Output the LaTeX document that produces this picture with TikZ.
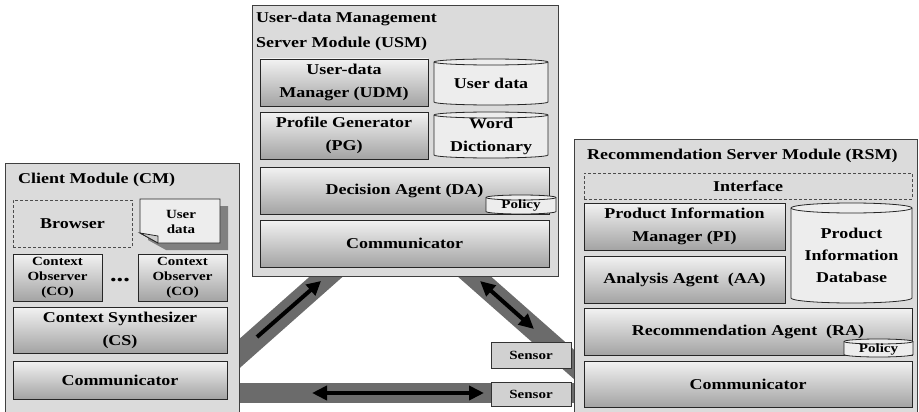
\documentclass[tikz,border=0pt]{standalone}
\usepackage{fontspec}
\setmainfont[FakeStretch=1.2]{Liberation Serif}
\usetikzlibrary{arrows.meta}

\newcommand{\lblbig}{\fontsize{15}{23}\selectfont\bfseries}
\newcommand{\lblsmall}{\fontsize{12.5}{15}\selectfont\bfseries}

% database cylinder: #1 name, #2 x1, #3 y1, #4 x2, #5 y2, #6 rx, #7 ry, #8 font, #9 text
\newcommand{\drawdb}[9]{%
  \path[dbbody] (#2,#3+#7) -- (#2,#5-#7)
     arc[start angle=180, end angle=360, x radius=#6pt, y radius=#7pt]
     -- (#4,#3+#7)
     arc[start angle=0, end angle=180, x radius=#6pt, y radius=#7pt] -- cycle;
  \draw[dbline] (#2,#3+#7) arc[start angle=180, end angle=360, x radius=#6pt, y radius=#7pt];
  \node[align=center, inner sep=0pt, font=#8] (#1) at ({(#2+#4)/2},{(#3+#5)/2+#7/2}) {#9};
}

\begin{document}
\begin{tikzpicture}[x=1pt, y=-1pt,
  module/.style={draw=black!75, fill=black!14, line width=0.8pt, anchor=north west,
                 inner sep=0pt, outer sep=0pt},
  comp/.style={draw=black!85, line width=0.8pt, top color=black!5, bottom color=black!36,
               anchor=north west, inner sep=0pt, outer sep=0pt, align=center, font=\lblbig},
  dashbox/.style={draw=black!70, line width=0.8pt, dash pattern=on 3pt off 2pt, fill=black!14,
                  anchor=north west, inner sep=0pt, outer sep=0pt, align=center, font=\lblbig},
  sensorbox/.style={draw=black!80, line width=0.8pt, fill=black!18, anchor=north west,
                    inner sep=0pt, outer sep=0pt, font=\lblsmall},
  title/.style={anchor=west, inner sep=0pt, align=left, font=\lblbig},
  dbbody/.style={draw=black!85, line width=0.8pt, fill=black!7},
  dbline/.style={draw=black!85, line width=0.8pt},
  band/.style={line width=22pt, draw=black!58},
  flow/.style={line width=4pt, draw=black},
  onehead/.style={flow, -{Triangle[length=14pt,width=14pt]}},
  twohead/.style={flow, {Triangle[length=15pt,width=14pt]}-{Triangle[length=15pt,width=14pt]}},
  font=\lblbig
]
\useasboundingbox (0,0) rectangle (919,412);
\clip (0,0) rectangle (919,412);

% ---------- connection bands between the modules ----------
\coordinate (lb1) at (222,369);
\coordinate (lb2) at (345,260);
\coordinate (rb1) at (459,263);
\coordinate (rb2) at (586,375);
\coordinate (hb1) at (230,393);
\coordinate (hb2) at (585,393);
\draw[band] (lb1) -- (lb2);
\draw[band] (rb1) -- (rb2);
\draw[band, line width=20pt] (hb1) -- (hb2);

% ---------- Client Module ----------
\node[module, minimum width=234pt, minimum height=260pt] (cm) at (5,163) {};
\node[title] (cmt) at (18,180) {Client Module (CM)};
\node[dashbox, minimum width=119pt, minimum height=47pt] (browser) at (13,200) {Browser};
% user data document with folded corner and shadow
\fill[black!50] (148,206) -- (228,206) -- (228,250) -- (166,250) -- (148,240) -- cycle;
\draw[draw=black!85, line width=0.8pt, fill=black!7]
  (140,199) -- (220,199) -- (220,243) -- (158,243) -- (140,233) -- cycle;
\draw[draw=black!85, line width=0.8pt, fill=black!20] (140,233) -- (158,236) -- (158,243) -- cycle;
\node[align=center, inner sep=0pt, font=\lblsmall] (cmdata) at (181,222) {User\\data};
\node[comp, font=\lblsmall, minimum width=89pt, minimum height=47pt] (co1) at (13,254) {Context\\Observer\\(CO)};
\node[comp, font=\lblsmall, minimum width=89pt, minimum height=47pt] (co2) at (138,254) {Context\\Observer\\(CO)};
\node[inner sep=0pt, font=\fontsize{22}{22}\selectfont\bfseries] (dots) at (120,280) {...};
\node[comp, minimum width=214pt, minimum height=46pt] (cs) at (13,307) {Context Synthesizer\\(CS)};
\node[comp, minimum width=214pt, minimum height=38pt] (cmcomm) at (13,361) {Communicator};

% ---------- User-data Management Server Module ----------
\node[module, minimum width=306pt, minimum height=271pt] (usm) at (252,5) {};
\node[title, font=\fontsize{15}{25}\selectfont\bfseries] (usmt) at (256,31.5) {User-data Management\\Server Module (USM)};
\node[comp, minimum width=168pt, minimum height=47pt] (udm) at (260,59) {User-data\\Manager (UDM)};
\drawdb{udata}{434}{59}{548}{105}{57}{3}{\lblbig}{User data}
\node[comp, minimum width=168pt, minimum height=47pt] (pg) at (260,112) {Profile Generator\\(PG)};
\drawdb{wdict}{434}{112}{548}{158}{57}{3}{\lblbig}{Word\\Dictionary}
\node[comp, minimum width=289pt, minimum height=47pt] (da) at (260,167) {Decision Agent (DA)};
\drawdb{dapol}{486}{195}{556}{214}{35}{2.5}{\lblsmall}{Policy}
\node[comp, minimum width=289pt, minimum height=47pt] (usmcomm) at (260,220) {Communicator};

% ---------- Recommendation Server Module ----------
\node[module, minimum width=343pt, minimum height=280pt] (rsm) at (574,139) {};
\node[title] (rsmt) at (587,156) {Recommendation Server Module (RSM)};
\node[dashbox, minimum width=328pt, minimum height=26pt] (iface) at (584,173) {Interface};
\node[comp, minimum width=201pt, minimum height=47pt] (pim) at (584,203) {Product Information\\Manager (PI)};
\node[comp, minimum width=201pt, minimum height=47pt] (aa) at (584,256) {Analysis Agent~ (AA)};
\drawdb{pidb}{791}{203}{912}{303}{60.5}{5}{\fontsize{15}{22}\selectfont\bfseries}{Product\\Information\\Database}
\node[comp, minimum width=328pt, minimum height=47pt] (ra) at (584,308) {Recommendation Agent~ (RA)};
\drawdb{rapol}{844}{339}{913}{357}{34.5}{2.5}{\lblsmall}{Policy}
\node[comp, minimum width=328pt, minimum height=46pt] (rsmcomm) at (584,361) {Communicator};

% ---------- sensors ----------
\node[sensorbox, minimum width=80pt, minimum height=26pt] (sens1) at (491,342) {Sensor};
\node[sensorbox, minimum width=80pt, minimum height=24pt] (sens2) at (491,382) {Sensor};

% ---------- message flow arrows ----------
\coordinate (la1) at (257,337);
\coordinate (la2) at (321,281);
\coordinate (ra1) at (480,281);
\coordinate (ra2) at (534,329);
\coordinate (ha1) at (312,393);
\coordinate (ha2) at (484,393);
\draw[onehead] (la1) -- (la2);
\draw[twohead] (ra1) -- (ra2);
\draw[twohead] (ha1) -- (ha2);
\end{tikzpicture}
\end{document}
